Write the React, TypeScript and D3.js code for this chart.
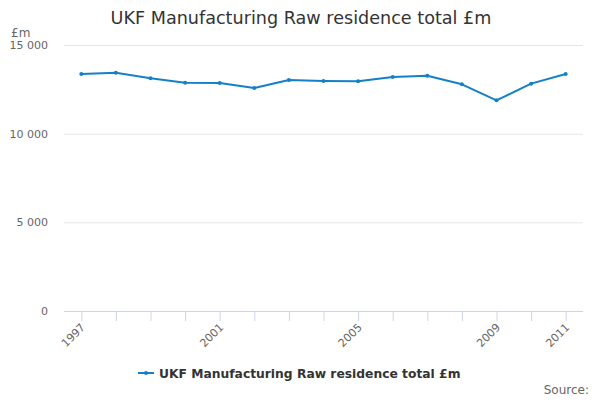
import { useEffect, useRef } from "react";
import * as d3 from "d3";

const years = ["1997", "1998", "1999", "2000", "2001", "2002", "2003", "2004", "2005", "2006", "2007", "2008", "2009", "2010", "2011"];
const values = [13365, 13440, 13120, 12875, 12857, 12575, 13026, 12970, 12952, 13195, 13270, 12782, 11880, 12820, 13365];
const yTicks = [0, 5000, 10000, 15000];
const shownYears = ["1997", "2001", "2005", "2009", "2011"];

const title = "UKF Manufacturing Raw residence total £m";
const seriesName = "UKF Manufacturing Raw residence total £m";

export default function App() {
  const svgRef = useRef<SVGSVGElement>(null);

  useEffect(() => {
    if (!svgRef.current) return;
    const width = 600;
    const height = 400;
    const margin = { top: 45, right: 17, bottom: 89, left: 64 };
    const innerWidth = width - margin.left - margin.right;
    const innerHeight = height - margin.top - margin.bottom;
    const font = "'DejaVu Sans', sans-serif";
    const lineColor = "#1380c8";

    const svg = d3.select(svgRef.current);
    svg.selectAll("*").remove();

    // ── Title ────────────────────────────────────────────────────────────
    svg.append("text")
      .attr("x", 301)
      .attr("y", 24)
      .attr("text-anchor", "middle")
      .attr("font-family", font)
      .attr("font-size", 17.6)
      .attr("fill", "#333333")
      .text(title);

    svg.append("text")
      .attr("x", 11)
      .attr("y", 37)
      .attr("font-family", font)
      .attr("font-size", 12)
      .attr("fill", "#666666")
      .text("£m");

    const g = svg.append("g").attr("transform", `translate(${margin.left},${margin.top})`);

    // ── Scales ───────────────────────────────────────────────────────────
    const x = d3.scalePoint<string>().domain(years).range([0, innerWidth]).padding(0.5);
    const y = d3.scaleLinear().domain([0, 15000]).range([innerHeight, 0]);

    // ── Grid ─────────────────────────────────────────────────────────────
    const grid = g.append("g")
      .call(d3.axisLeft(y).tickValues(yTicks).tickSize(-innerWidth).tickFormat(() => ""));
    grid.select(".domain").remove();
    grid.selectAll("line").attr("stroke", "#e6e6e6");

    // ── Y labels ─────────────────────────────────────────────────────────
    const fmt = (v: number) => (v === 0 ? "0" : d3.format(",")(v).replace(",", " "));
    g.append("g")
      .selectAll("text")
      .data(yTicks)
      .join("text")
      .attr("x", -16)
      .attr("y", (d) => y(d) + 4)
      .attr("text-anchor", "end")
      .attr("font-family", font)
      .attr("font-size", 11)
      .attr("fill", "#666666")
      .text((d) => fmt(d));

    // ── X axis ───────────────────────────────────────────────────────────
    const xAxis = g.append("g")
      .attr("transform", `translate(0,${innerHeight})`)
      .call(d3.axisBottom(x).tickSize(10).tickSizeOuter(0).tickFormat((d) => (shownYears.includes(d) ? d : "")));
    xAxis.select(".domain").attr("stroke", "#ccd6eb").attr("d", `M0,0.5H${innerWidth}`);
    xAxis.selectAll(".tick line").attr("stroke", "#ccd6eb");
    xAxis.selectAll(".tick text")
      .attr("font-family", font)
      .attr("font-size", 11)
      .attr("fill", "#666666")
      .attr("text-anchor", "end")
      .attr("dx", 0)
      .attr("dy", 0)
      .attr("y", 0)
      .attr("transform", "translate(4,17) rotate(-45)");

    // ── Series ───────────────────────────────────────────────────────────
    const data = years.map((yr, i) => ({ yr, v: values[i] }));
    const line = d3.line<{ yr: string; v: number }>()
      .x((d) => x(d.yr) as number)
      .y((d) => y(d.v));

    g.append("path")
      .datum(data)
      .attr("fill", "none")
      .attr("stroke", lineColor)
      .attr("stroke-width", 2)
      .attr("stroke-linejoin", "round")
      .attr("d", line);

    g.selectAll(".dot")
      .data(data)
      .join("circle")
      .attr("class", "dot")
      .attr("cx", (d) => x(d.yr) as number)
      .attr("cy", (d) => y(d.v))
      .attr("r", 2)
      .attr("fill", lineColor);

    // ── Legend ───────────────────────────────────────────────────────────
    const lg = svg.append("g").attr("transform", "translate(138,373)");
    lg.append("line")
      .attr("x1", 0).attr("x2", 16).attr("y1", 0).attr("y2", 0)
      .attr("stroke", lineColor).attr("stroke-width", 2);
    lg.append("circle").attr("cx", 8).attr("cy", 0).attr("r", 2).attr("fill", lineColor);
    lg.append("text")
      .attr("x", 21)
      .attr("y", 5)
      .attr("font-family", font)
      .attr("font-size", 12.3)
      .attr("font-weight", "bold")
      .attr("fill", "#333333")
      .text(seriesName);

    svg.append("text")
      .attr("x", 589)
      .attr("y", 394)
      .attr("text-anchor", "end")
      .attr("font-family", font)
      .attr("font-size", 12)
      .attr("fill", "#666666")
      .text("Source:");
  }, []);

  return (
    <svg
      ref={svgRef}
      width={600}
      height={400}
      viewBox="0 0 600 400"
      style={{ display: "block", position: "absolute", left: 0, top: 0, background: "#ffffff" }}
    />
  );
}
